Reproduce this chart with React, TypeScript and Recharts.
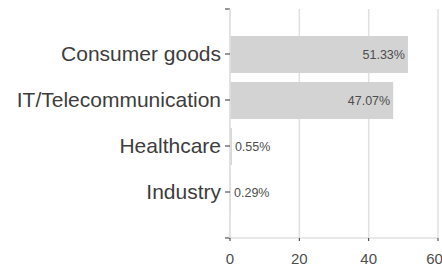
import { Bar, BarChart, CartesianGrid, LabelList, XAxis, YAxis, usePlotArea } from 'recharts'

const categories = ['Consumer goods', 'IT/Telecommunication', 'Healthcare', 'Industry']
const shares = [51.33, 47.07, 0.55, 0.29]
const xTicks = [0, 20, 40, 60]

const rows = categories.map((name, i) => ({ name, share: shares[i] }))

const font = '"Liberation Sans", Arial, sans-serif'
const lightLine = '#e0e0e0'
const darkTick = '#333333'

function ShareLabel(props: any) {
  const { x, y, width, height, value } = props
  const text = `${Number(value).toFixed(2)}%`
  const inside = width > 40
  return (
    <text
      x={inside ? x + width - 3 : x + width + 3}
      y={y + height / 2}
      textAnchor={inside ? 'end' : 'start'}
      dominantBaseline="central"
      fontSize={12.5}
      fontFamily={font}
      fill="#4d4d4d"
    >
      {text}
    </text>
  )
}

// little ticks at both ends of the y axis, like the original
function AxisEndTicks() {
  const area = usePlotArea()
  if (!area) return null
  const { x, y, height } = area
  return (
    <g stroke={darkTick}>
      <line x1={x - 5} x2={x} y1={y} y2={y} />
      <line x1={x - 5} x2={x} y1={y + height} y2={y + height} />
    </g>
  )
}

export default function App() {
  return (
    <div style={{ position: 'fixed', top: 0, left: 0, background: '#fff' }}>
      <BarChart
        layout="vertical"
        width={442}
        height={267}
        data={rows}
        margin={{ top: 9, right: 4, bottom: 0, left: 0 }}
      >
        <CartesianGrid horizontal={false} stroke={lightLine} strokeWidth={1.5} />
        <YAxis
          type="category"
          dataKey="name"
          width={230}
          padding={{ top: 22, bottom: 23 }}
          axisLine={{ stroke: lightLine, strokeWidth: 1.5 }}
          tickLine={{ stroke: darkTick }}
          tickSize={5}
          tickMargin={4}
          tick={{ fontSize: 21, fontFamily: font, fill: '#3d3d3d' }}
          interval={0}
        />
        <XAxis
          type="number"
          domain={[0, 60]}
          ticks={xTicks}
          height={29}
          axisLine={{ stroke: lightLine, strokeWidth: 1.5 }}
          tickLine={{ stroke: darkTick }}
          tickSize={3}
          tickMargin={12}
          tick={{ fontSize: 15, fontFamily: font, fill: '#4d4d4d' }}
          allowDataOverflow
        />
        <Bar dataKey="share" fill="#d3d3d3" barSize={37} isAnimationActive={false}>
          <LabelList dataKey="share" content={ShareLabel} />
        </Bar>
        <AxisEndTicks />
      </BarChart>
    </div>
  )
}
